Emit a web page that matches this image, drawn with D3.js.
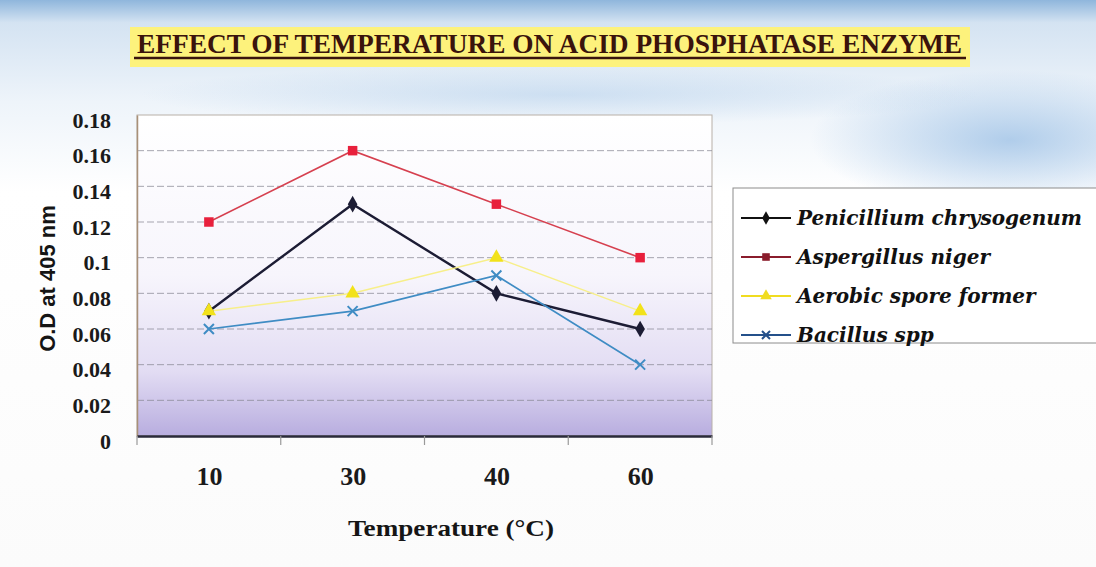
<!DOCTYPE html>
<html>
<head>
<meta charset="utf-8">
<script src="https://cdn.jsdelivr.net/npm/d3@7"></script>
<style>
  html, body { margin: 0; padding: 0; background: #fff; }
  svg { display: block; }
</style>
</head>
<body>
<div id="chart"></div>
<script>
// data
const temperatures = ["10", "30", "40", "60"];
const penicillium = [0.07, 0.13, 0.08, 0.06];
const aspergillus = [0.12, 0.16, 0.13, 0.10];
const aerobic = [0.07, 0.08, 0.10, 0.07];
const bacillus = [0.06, 0.07, 0.09, 0.04];
const seriesNames = ["Penicillium chrysogenum", "Aspergillus niger", "Aerobic spore former", "Bacillus spp"];
const yTicks = [0, 0.02, 0.04, 0.06, 0.08, 0.1, 0.12, 0.14, 0.16, 0.18];

const title = "EFFECT OF TEMPERATURE ON ACID PHOSPHATASE ENZYME";

const W = 1096, H = 567;
const plot = { left: 137, right: 712, top: 115, bottom: 436 };

const series = [
  { name: seriesNames[0], values: penicillium, color: "#1c1c34", legend: "#111", width: 2.4, symbol: d3.symbolDiamond, size: 80 },
  { name: seriesNames[1], values: aspergillus, color: "#d6404f", marker: "#e8203c", legend: "#8a1c2c", width: 1.6, symbol: d3.symbolSquare, size: 90 },
  { name: seriesNames[2], values: aerobic, color: "#f7ef8a", marker: "#f2e21a", legend: "#f0dc20", width: 1.5, symbol: d3.symbolTriangle, size: 90 },
  { name: seriesNames[3], values: bacillus, color: "#3f8cc4", legend: "#24508a", width: 1.7, symbol: "x", size: 10 }
];

const svg = d3.select("#chart").append("svg")
  .attr("width", W)
  .attr("height", H);

const defs = svg.append("defs");

const pageGrad = defs.append("linearGradient")
  .attr("id", "pageGrad").attr("x1", 0).attr("y1", 0).attr("x2", 0).attr("y2", 1);
pageGrad.append("stop").attr("offset", "0%").attr("stop-color", "#8fb6dc");
pageGrad.append("stop").attr("offset", "4%").attr("stop-color", "#d4e3f2");
pageGrad.append("stop").attr("offset", "18%").attr("stop-color", "#eef4fa");
pageGrad.append("stop").attr("offset", "34%").attr("stop-color", "#ffffff");
pageGrad.append("stop").attr("offset", "100%").attr("stop-color", "#fbfbfb");

const haze = defs.append("radialGradient")
  .attr("id", "haze").attr("cx", 0.5).attr("cy", 0.5).attr("r", 0.5);
haze.append("stop").attr("offset", "0%").attr("stop-color", "#9fc2e6").attr("stop-opacity", 0.8);
haze.append("stop").attr("offset", "100%").attr("stop-color", "#9fc2e6").attr("stop-opacity", 0);

const plotGrad = defs.append("linearGradient")
  .attr("id", "plotGrad").attr("x1", 0).attr("y1", 0).attr("x2", 0).attr("y2", 1);
plotGrad.append("stop").attr("offset", "0%").attr("stop-color", "#ffffff");
plotGrad.append("stop").attr("offset", "50%").attr("stop-color", "#f7f5fc");
plotGrad.append("stop").attr("offset", "80%").attr("stop-color", "#e2dcf3");
plotGrad.append("stop").attr("offset", "100%").attr("stop-color", "#b8addf");

// background
svg.append("rect").attr("width", W).attr("height", H).attr("fill", "url(#pageGrad)");
svg.append("ellipse").attr("cx", 1010).attr("cy", 140).attr("rx", 200).attr("ry", 70).attr("fill", "url(#haze)");
svg.append("ellipse").attr("cx", 560).attr("cy", 95).attr("rx", 420).attr("ry", 30).attr("fill", "url(#haze)").attr("opacity", 0.5);

// title banner
svg.append("rect")
  .attr("x", 130).attr("y", 27).attr("width", 840).attr("height", 40)
  .attr("fill", "#fdf27c");
svg.append("text")
  .attr("x", 137).attr("y", 53)
  .attr("textLength", 825)
  .attr("lengthAdjust", "spacingAndGlyphs")
  .style("font-family", "'Liberation Serif', serif")
  .style("font-weight", "bold")
  .style("font-size", "28px")
  .attr("fill", "#3a140c")
  .text(title);
svg.append("line")
  .attr("x1", 134).attr("x2", 966).attr("y1", 58).attr("y2", 58)
  .attr("stroke", "#3a140c").attr("stroke-width", 2.5);

// scales
const x = d3.scalePoint().domain(temperatures).range([plot.left, plot.right]).padding(0.5);
const xBand = d3.scaleBand().domain(temperatures).range([plot.left, plot.right]);
const y = d3.scaleLinear().domain([0, 0.18]).range([plot.bottom, plot.top]);

// plot area
svg.append("rect")
  .attr("x", plot.left).attr("y", plot.top)
  .attr("width", plot.right - plot.left).attr("height", plot.bottom - plot.top)
  .attr("fill", "url(#plotGrad)")
  .attr("stroke", "#b8b0a8").attr("stroke-width", 1);

// gridlines
svg.append("g")
  .selectAll("line")
  .data(yTicks.filter(d => d > 0 && d < 0.18))
  .join("line")
  .attr("x1", plot.left).attr("x2", plot.right)
  .attr("y1", d => y(d)).attr("y2", d => y(d))
  .attr("stroke", "#8a8a96")
  .attr("stroke-width", 1)
  .attr("stroke-dasharray", "7,3")
  .attr("opacity", 0.75);

// y axis
const yAxis = svg.append("g")
  .attr("transform", `translate(${plot.left},0)`)
  .call(d3.axisLeft(y).tickValues(yTicks).tickSize(0).tickPadding(26)
    .tickFormat(d => String(+d.toFixed(2))));
yAxis.select(".domain").attr("stroke", "#a89078").attr("stroke-width", 1.5);
yAxis.selectAll("text")
  .attr("dy", "0.55em")
  .style("font-family", "'Liberation Serif', serif")
  .style("font-weight", "bold")
  .style("font-size", "22px")
  .attr("fill", "#1a1a1a");

// x axis
const xAxis = svg.append("g")
  .attr("transform", `translate(0,${plot.bottom})`)
  .call(d3.axisBottom(x).tickSize(0).tickPadding(31));
xAxis.select(".domain").attr("stroke", "#2a2a3a").attr("stroke-width", 2.5);
xAxis.selectAll("text")
  .style("font-family", "'Liberation Serif', serif")
  .style("font-weight", "bold")
  .style("font-size", "26px")
  .attr("fill", "#1a1a1a");

// x tick marks at category boundaries
const bounds = temperatures.map(t => xBand(t)).concat([xBand(temperatures[temperatures.length - 1]) + xBand.bandwidth()]);
svg.append("g")
  .selectAll("line")
  .data(bounds)
  .join("line")
  .attr("x1", d => d).attr("x2", d => d)
  .attr("y1", plot.bottom).attr("y2", plot.bottom + 9)
  .attr("stroke", "#999").attr("stroke-width", 1.2);

// axis titles
svg.append("text")
  .attr("transform", `translate(55,${(plot.top + plot.bottom) / 2 + 3}) rotate(-90)`)
  .attr("text-anchor", "middle")
  .style("font-family", "'Liberation Sans', Arial, sans-serif")
  .style("font-weight", "bold")
  .style("font-size", "22px")
  .attr("fill", "#151515")
  .text("O.D at 405 nm");

svg.append("text")
  .attr("x", 451).attr("y", 536)
  .attr("text-anchor", "middle")
  .attr("textLength", 206)
  .attr("lengthAdjust", "spacingAndGlyphs")
  .style("font-family", "'Liberation Serif', serif")
  .style("font-weight", "bold")
  .style("font-size", "24px")
  .attr("fill", "#151515")
  .text("Temperature (°C)");

// markers
function drawMarker(g, s, cx, cy, scale) {
  const k = scale || 1;
  if (s.symbol === "x") {
    const r = s.size / 2 * k;
    g.append("path")
      .attr("d", `M${cx - r},${cy - r}L${cx + r},${cy + r}M${cx - r},${cy + r}L${cx + r},${cy - r}`)
      .attr("stroke", s.marker || s.color).attr("stroke-width", 2).attr("fill", "none");
  } else {
    g.append("path")
      .attr("d", d3.symbol().type(s.symbol).size(s.size * k * k)())
      .attr("transform", `translate(${cx},${cy})`)
      .attr("fill", s.marker || s.color);
  }
}

const line = d3.line().x((d, i) => x(temperatures[i])).y(d => y(d));

// draw lines, then markers
series.forEach(s => {
  svg.append("path")
    .datum(s.values)
    .attr("d", line)
    .attr("fill", "none")
    .attr("stroke", s.color)
    .attr("stroke-width", s.width);
});
series.forEach(s => {
  const g = svg.append("g");
  s.values.forEach((v, i) => drawMarker(g, s, x(temperatures[i]), y(v)));
});

// legend
const legend = svg.append("g").attr("transform", "translate(733,188)");
legend.append("rect")
  .attr("width", 380).attr("height", 155)
  .attr("fill", "#ffffff")
  .attr("stroke", "#8c8c8c").attr("stroke-width", 1);

series.forEach((s, i) => {
  const ly = 30 + i * 39;
  const row = legend.append("g");
  row.append("line")
    .attr("x1", 8).attr("x2", 58).attr("y1", ly).attr("y2", ly)
    .attr("stroke", s.legend).attr("stroke-width", 2);
  drawMarker(row, Object.assign({}, s, { color: s.legend, marker: s.legend }), 33, ly, 0.8);
  row.append("text")
    .attr("x", 64).attr("y", ly + 7)
    .style("font-family", "'DejaVu Serif', serif")
    .style("font-style", "italic")
    .style("font-weight", "bold")
    .style("font-size", "20px")
    .attr("fill", "#111")
    .text(s.name);
});
</script>
</body>
</html>
